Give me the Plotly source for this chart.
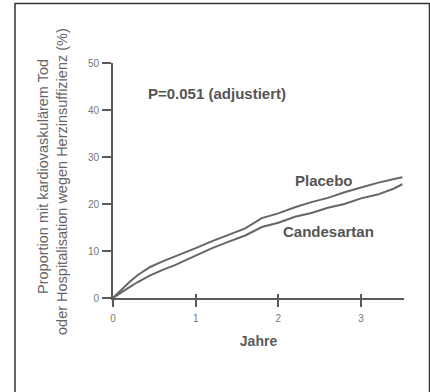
import plotly.graph_objects as go

years = [0, 0.1, 0.2, 0.3, 0.45, 0.6, 0.75, 0.9, 1.0, 1.2, 1.4, 1.5, 1.6, 1.8, 2.0, 2.2, 2.4, 2.6, 2.8, 3.0, 3.2, 3.4, 3.5]
placebo = [0, 1.8, 3.4, 4.9, 6.6, 7.8, 8.8, 9.9, 10.6, 12.1, 13.4, 14.0, 14.8, 17.0, 18.0, 19.3, 20.4, 21.3, 22.5, 23.5, 24.5, 25.3, 25.7]
candesartan = [0, 1.2, 2.3, 3.4, 4.8, 6.0, 7.0, 8.2, 9.0, 10.6, 12.0, 12.7, 13.3, 15.1, 16.0, 17.3, 18.1, 19.2, 20.0, 21.2, 22.0, 23.3, 24.2]
x_ticks = [0, 1, 2, 3]
y_ticks = [0, 10, 20, 30, 40, 50]

W, H = 430, 392
L, R, T, B = 113, 26, 63, 94
pw, ph = W - L - R, H - T - B

def px(x):
    return (x - L) / pw

def py(y):
    return (H - B - y) / ph

GRAY = "#5a5a5a"
FONT = "Liberation Sans, Arial, sans-serif"

fig = go.Figure()
fig.add_trace(go.Scatter(x=years, y=placebo, mode="lines", line=dict(color="#666666", width=2), showlegend=False))
fig.add_trace(go.Scatter(x=years, y=candesartan, mode="lines", line=dict(color="#666666", width=2), showlegend=False))
# invisible trace to activate inside-tick axis
fig.add_trace(go.Scatter(x=[0], y=[0], xaxis="x2", mode="markers", marker=dict(opacity=0), showlegend=False, hoverinfo="skip"))

fig.update_layout(
    width=W, height=H,
    margin=dict(l=L, r=R, t=T, b=B),
    paper_bgcolor="white", plot_bgcolor="white",
    font=dict(family=FONT, color=GRAY),
    xaxis=dict(range=[0, 3.52], tickvals=x_ticks, ticks="outside", ticklen=7, tickwidth=1.5,
               tickcolor=GRAY, showline=True, linecolor=GRAY, linewidth=2, showgrid=False, zeroline=False,
               tickfont=dict(size=10, color="#777777"), ticklabelstandoff=3,
               title=dict(text="<b>Jahre</b>", font=dict(size=14, color=GRAY), standoff=13)),
    xaxis2=dict(range=[0, 3.52], overlaying="x", tickvals=x_ticks, ticks="inside", ticklen=4, tickwidth=1.5,
                tickcolor=GRAY, showticklabels=False, showline=False, showgrid=False, zeroline=False, side="bottom"),
    yaxis=dict(range=[0, 50], tickvals=y_ticks, ticks="outside", ticklen=9, tickwidth=1.5,
               tickcolor=GRAY, showline=True, linecolor=GRAY, linewidth=2, showgrid=False, zeroline=False,
               tickfont=dict(size=10, color="#777777"), ticklabelstandoff=1),
)

fig.add_annotation(x=px(43), y=py(177), xref="paper", yref="paper", text="Proportion mit kardiovaskulärem Tod",
                   textangle=-90, showarrow=False, font=dict(size=14.5, color="#666666"), xanchor="center", yanchor="middle")
fig.add_annotation(x=px(62), y=py(182), xref="paper", yref="paper", text="oder Hospitalisation wegen Herzinsuffizienz (%)",
                   textangle=-90, showarrow=False, font=dict(size=14.5, color="#666666"), xanchor="center", yanchor="middle")

fig.add_annotation(x=1.26, y=43.6, text="<b>P=0.051 (adjustiert)</b>", showarrow=False,
                   font=dict(size=15, color="#555555"))
fig.add_annotation(x=2.55, y=25.0, text="<b>Placebo</b>", showarrow=False, font=dict(size=15, color="#555555"))
fig.add_annotation(x=2.61, y=14.2, text="<b>Candesartan</b>", showarrow=False, font=dict(size=15, color="#555555"))

fig.add_shape(type="rect", xref="paper", yref="paper", x0=px(15), x1=px(429.5), y0=py(400), y1=py(3.5),
              line=dict(color="#333333", width=1.5), fillcolor="rgba(0,0,0,0)")

fig.write_html("out.html")
